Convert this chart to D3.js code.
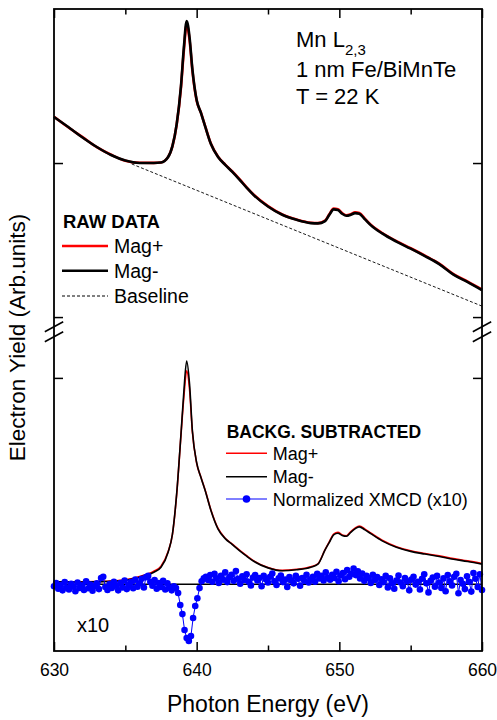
<!DOCTYPE html>
<html>
<head>
<meta charset="utf-8">
<script src="https://cdn.jsdelivr.net/npm/d3@7"></script>
<style>
  body { margin: 0; background: #fff; }
  text { font-family: "Liberation Sans", Arial, sans-serif; }
</style>
</head>
<body>
<div id="chart"></div>
<script>
// photon energy grid used by the four spectra (eV)
const energy = [630, 631, 632, 633, 634, 635, 636, 637, 637.5, 638, 638.3, 638.6, 638.9, 639.1, 639.3, 639.5, 639.7,
  640, 640.3, 640.6, 641, 641.5, 642, 642.5, 643, 643.5, 644, 645, 646, 647, 648, 648.5, 649, 649.3, 649.6, 649.9,
  650.2, 650.5, 650.8, 651.1, 651.4, 651.8, 652.2, 653, 654, 655, 656, 657, 658, 659, 660];

// raw electron yield (upper panel, arb. units)
const rawMagMinus = [2.299, 2.234, 2.166, 2.104, 2.052, 2.016, 2.000, 2.000, 2.003, 2.039, 2.110, 2.253, 2.500, 2.747, 2.922, 2.818, 2.610,
  2.409, 2.325, 2.236, 2.123, 2.039, 1.988, 1.943, 1.893, 1.840, 1.792, 1.718, 1.664, 1.631, 1.610, 1.608, 1.623, 1.664, 1.699, 1.695,
  1.671, 1.658, 1.664, 1.675, 1.671, 1.634, 1.597, 1.543, 1.490, 1.444, 1.396, 1.344, 1.276, 1.227, 1.175];
const rawMagPlus = [2.301, 2.232, 2.168, 2.103, 2.054, 2.015, 2.002, 2.001, 2.004, 2.040, 2.108, 2.250, 2.490, 2.728, 2.900, 2.800, 2.600,
  2.405, 2.327, 2.238, 2.125, 2.041, 1.990, 1.945, 1.895, 1.842, 1.794, 1.720, 1.666, 1.633, 1.612, 1.610, 1.626, 1.668, 1.704, 1.700,
  1.675, 1.661, 1.668, 1.680, 1.676, 1.638, 1.600, 1.546, 1.493, 1.447, 1.399, 1.347, 1.279, 1.230, 1.179];
const baselineEnergy = [635.45, 660];
const baselineValue = [1.994, 1.071];

// background subtracted spectra (lower panel)
const subMagMinus = [0.011, 0.011, 0.010, 0.012, 0.014, 0.019, 0.034, 0.058, 0.082, 0.155, 0.242, 0.440, 0.727, 0.932, 1.082, 0.971, 0.744,
  0.589, 0.517, 0.453, 0.357, 0.267, 0.221, 0.192, 0.163, 0.136, 0.111, 0.079, 0.065, 0.070, 0.082, 0.097, 0.166, 0.203, 0.239, 0.247,
  0.236, 0.232, 0.251, 0.268, 0.278, 0.263, 0.245, 0.210, 0.179, 0.159, 0.146, 0.134, 0.121, 0.110, 0.097];
const subMagPlus = [0.012, 0.010, 0.011, 0.013, 0.015, 0.021, 0.037, 0.063, 0.087, 0.158, 0.240, 0.436, 0.722, 0.905, 1.034, 0.945, 0.738,
  0.586, 0.519, 0.455, 0.360, 0.270, 0.223, 0.194, 0.165, 0.138, 0.113, 0.081, 0.067, 0.072, 0.084, 0.099, 0.168, 0.206, 0.243, 0.251,
  0.239, 0.235, 0.255, 0.272, 0.282, 0.267, 0.248, 0.213, 0.182, 0.162, 0.149, 0.137, 0.124, 0.113, 0.100];

// normalized XMCD (x10)
const xmcdEnergy = [
  630.00, 630.15, 630.30, 630.45, 630.60, 630.75, 630.90, 631.05, 631.20, 631.35,
  631.50, 631.65, 631.80, 631.95, 632.10, 632.25, 632.40, 632.55, 632.70, 632.85,
  633.00, 633.15, 633.30, 633.45, 633.60, 633.75, 633.90, 634.05, 634.20, 634.35,
  634.50, 634.65, 634.80, 634.95, 635.10, 635.25, 635.40, 635.55, 635.70, 635.85,
  636.00, 636.15, 636.30, 636.45, 636.60, 636.75, 636.90, 637.05, 637.20, 637.35,
  637.50, 637.65, 637.80, 637.95, 638.10, 638.25, 638.40, 638.55, 638.70, 638.85,
  639.00, 639.15, 639.30, 639.45, 639.60, 639.75, 639.90, 640.05, 640.20, 640.35,
  640.50, 640.65, 640.80, 640.95, 641.10, 641.25, 641.40, 641.55, 641.70, 641.85,
  642.00, 642.15, 642.30, 642.45, 642.60, 642.75, 642.90, 643.05, 643.20, 643.35,
  643.50, 643.65, 643.80, 643.95, 644.10, 644.25, 644.40, 644.55, 644.70, 644.85,
  645.00, 645.15, 645.30, 645.45, 645.60, 645.75, 645.90, 646.05, 646.20, 646.35,
  646.50, 646.65, 646.80, 646.95, 647.10, 647.25, 647.40, 647.55, 647.70, 647.85,
  648.00, 648.15, 648.30, 648.45, 648.60, 648.75, 648.90, 649.05, 649.20, 649.35,
  649.50, 649.65, 649.80, 649.95, 650.10, 650.25, 650.40, 650.55, 650.70, 650.85,
  651.00, 651.15, 651.30, 651.45, 651.60, 651.75, 651.90, 652.05, 652.20, 652.35,
  652.50, 652.65, 652.80, 652.95, 653.10, 653.25, 653.40, 653.55, 653.70, 653.85,
  654.00, 654.15, 654.30, 654.45, 654.60, 654.75, 654.90, 655.05, 655.20, 655.35,
  655.50, 655.65, 655.80, 655.95, 656.10, 656.25, 656.40, 656.55, 656.70, 656.85,
  657.00, 657.15, 657.30, 657.45, 657.60, 657.75, 657.90, 658.05, 658.20, 658.35,
  658.50, 658.65, 658.80, 658.95, 659.10, 659.25, 659.40, 659.55, 659.70, 659.85,
  660.00];
const xmcdValue = [
  -0.010, 0.006, -0.022, -0.004, -0.030, 0.010, -0.016, -0.026, 0.002, -0.012,
  -0.034, 0.008, -0.018, -0.006, -0.028, 0.014, -0.020, -0.002, -0.032, -0.010,
  0.004, -0.024, 0.030, 0.036, -0.014, -0.028, 0.000, -0.018, 0.012, -0.008,
  -0.030, 0.006, -0.016, 0.018, -0.024, -0.004, 0.010, -0.020, 0.022, -0.012,
  0.004, 0.026, -0.016, 0.034, 0.040, 0.012, -0.008, 0.020, -0.022, 0.006,
  -0.014, 0.016, -0.026, 0.004, -0.018, -0.030, -0.010,
  -0.019, -0.043, -0.101, -0.145, -0.222, -0.261, -0.275, -0.251, -0.164, -0.106, -0.068, -0.019, 0.014, 0.029,
  0.036, 0.020, 0.044, 0.012, 0.050, 0.028, 0.006, 0.040, 0.022, 0.058,
  0.010, 0.034, 0.046, 0.016, 0.064, 0.026, 0.002, 0.038, 0.020, 0.048,
  0.012, -0.006, 0.032, 0.044, 0.018, 0.030, -0.010, 0.040, 0.024, 0.008,
  0.036, 0.052, 0.014, -0.004, 0.028, 0.042, 0.010, 0.022, -0.014, 0.034,
  0.018, 0.004, 0.040, 0.026, -0.008, 0.030, 0.016, 0.046, 0.008, 0.024,
  0.036, 0.012, 0.050, 0.028, 0.040, 0.018, 0.058, 0.032, 0.022, 0.046,
  0.030, 0.060, 0.014, 0.042, 0.054, 0.024, 0.068, 0.036, 0.050, 0.076,
  0.044, 0.062, 0.028, 0.052, 0.016, 0.040, 0.030, 0.006, 0.046, 0.020,
  0.034, -0.004, 0.024, 0.010, 0.040, -0.016, 0.028, 0.004, -0.022, 0.018,
  0.042, 0.008, -0.010, 0.030, 0.014, -0.030, 0.022, 0.036, -0.002, 0.012,
  -0.026, 0.026, 0.048, 0.004, -0.040, 0.016, 0.032, -0.012, 0.040, 0.008,
  -0.018, 0.028, -0.034, 0.044, 0.014, -0.006, 0.036, 0.050, -0.044, 0.020,
  0.002, -0.024, 0.038, 0.012, -0.036, 0.054, 0.026, -0.014, 0.048, -0.028];

const xTicks = [630, 640, 650, 660];
const xMinorTicks = [635, 645, 655];
const rawTicks = [1, 2];
const subTicks = [1];

const W = 497, H = 720;
const margin = { top: 9, right: 15, bottom: 69, left: 54 };
const width = W - margin.left - margin.right;
const height = H - margin.top - margin.bottom;
const breakY = 322.7; // where the axis break sits, inside the plot

const svg = d3.select('#chart').append('svg')
  .attr('width', W)
  .attr('height', H);
const g = svg.append('g')
  .attr('transform', `translate(${margin.left},${margin.top})`);

const x = d3.scaleLinear().domain([630, 660]).range([0, width]);
const yRaw = d3.scaleLinear().domain([0.905, 3.0]).range([breakY, 0]);
const ySub = d3.scaleLinear().domain([-0.324, 1.224]).range([height, breakY]);

const zip = (xs, ys) => xs.map((e, i) => [e, ys[i]]);
const lineFor = (yScale, curve) => d3.line()
  .x(d => x(d[0]))
  .y(d => yScale(d[1]))
  .curve(curve || d3.curveMonotoneX);

// upper panel: raw data
g.append('path')
  .datum(zip(baselineEnergy, baselineValue))
  .attr('d', lineFor(yRaw, d3.curveLinear))
  .attr('fill', 'none')
  .attr('stroke', '#000')
  .attr('stroke-width', 0.9)
  .attr('stroke-dasharray', '3,2');

g.append('path')
  .datum(zip(energy, rawMagPlus))
  .attr('d', lineFor(yRaw))
  .attr('fill', 'none')
  .attr('stroke', '#ff0000')
  .attr('stroke-width', 2.6);

g.append('path')
  .datum(zip(energy, rawMagMinus))
  .attr('d', lineFor(yRaw))
  .attr('fill', 'none')
  .attr('stroke', '#000')
  .attr('stroke-width', 2.6);

// lower panel: zero line, subtracted spectra, xmcd
g.append('line')
  .attr('x1', x(630)).attr('x2', x(660))
  .attr('y1', ySub(0)).attr('y2', ySub(0))
  .attr('stroke', '#000')
  .attr('stroke-width', 1.5);

g.append('path')
  .datum(zip(energy, subMagPlus))
  .attr('d', lineFor(ySub))
  .attr('fill', 'none')
  .attr('stroke', '#ff0000')
  .attr('stroke-width', 1.6);

g.append('path')
  .datum(zip(energy, subMagMinus))
  .attr('d', lineFor(ySub))
  .attr('fill', 'none')
  .attr('stroke', '#000')
  .attr('stroke-width', 1.6);

const xmcd = zip(xmcdEnergy, xmcdValue);
g.append('path')
  .datum(xmcd)
  .attr('d', lineFor(ySub, d3.curveLinear))
  .attr('fill', 'none')
  .attr('stroke', '#0000ff')
  .attr('stroke-width', 1);

g.selectAll('.xmcd-dot')
  .data(xmcd)
  .join('circle')
    .attr('class', 'xmcd-dot')
    .attr('cx', d => x(d[0]))
    .attr('cy', d => ySub(d[1]))
    .attr('r', 3.3)
    .attr('fill', '#0000ff');

// axes (ticks point inward, frame drawn separately)
function styleAxis(sel) {
  sel.select('.domain').remove();
  sel.selectAll('.tick line').attr('stroke', '#000').attr('stroke-width', 1.5);
  sel.selectAll('.tick text')
    .attr('fill', '#000')
    .style('font-family', '"Liberation Sans", Arial, sans-serif')
    .style('font-size', '17.5px');
}

g.append('g')
  .attr('transform', `translate(0,${height})`)
  .call(d3.axisBottom(x).tickValues(xTicks).tickSize(-9).tickPadding(12.6).tickFormat(d3.format('d')))
  .call(styleAxis);
g.append('g')
  .attr('transform', `translate(0,${height})`)
  .call(d3.axisBottom(x).tickValues(xMinorTicks).tickSize(-5.5).tickFormat(''))
  .call(styleAxis);
g.append('g')
  .call(d3.axisTop(x).tickValues(xTicks).tickSize(-9).tickFormat(''))
  .call(styleAxis);
g.append('g')
  .call(d3.axisTop(x).tickValues(xMinorTicks).tickSize(-5.5).tickFormat(''))
  .call(styleAxis);

[[yRaw, rawTicks], [ySub, subTicks]].forEach(([scale, ticks]) => {
  g.append('g')
    .call(d3.axisLeft(scale).tickValues(ticks).tickSize(-9).tickFormat(''))
    .call(styleAxis);
  g.append('g')
    .attr('transform', `translate(${width},0)`)
    .call(d3.axisRight(scale).tickValues(ticks).tickSize(-9).tickFormat(''))
    .call(styleAxis);
});

g.append('rect')
  .attr('width', width)
  .attr('height', height)
  .attr('fill', 'none')
  .attr('stroke', '#000')
  .attr('stroke-width', 1.8);

// axis break marks on both sides
[0, width].forEach(xp => {
  [-5, 5].forEach(off => {
    g.append('line')
      .attr('x1', xp - 9.2).attr('y1', breakY + off + 5)
      .attr('x2', xp + 9.2).attr('y2', breakY + off - 5)
      .attr('stroke', '#000')
      .attr('stroke-width', 1.6);
  });
});

// axis titles
svg.append('text')
  .attr('x', margin.left + width / 2)
  .attr('y', 711.5)
  .attr('text-anchor', 'middle')
  .style('font-size', '23px')
  .text('Photon Energy (eV)');

svg.append('text')
  .attr('transform', 'translate(24.5,337.5) rotate(-90)')
  .attr('text-anchor', 'middle')
  .style('font-size', '22.5px')
  .text('Electron Yield (Arb.units)');

// sample annotation
const note = svg.append('g').style('font-size', '22px');
const l1 = note.append('text').attr('x', 296).attr('y', 46.7);
l1.append('tspan').text('Mn L');
l1.append('tspan').attr('dy', 8).style('font-size', '15px').text('2,3');
note.append('text').attr('x', 296).attr('y', 77).text('1 nm Fe/BiMnTe');
note.append('text').attr('x', 296).attr('y', 103.5).text('T = 22 K');

svg.append('text')
  .attr('x', 77).attr('y', 632)
  .style('font-size', '20px')
  .text('x10');

// legend, raw data
const legRaw = svg.append('g');
legRaw.append('text').attr('x', 63).attr('y', 228)
  .style('font-size', '18.5px').style('font-weight', 'bold').text('RAW DATA');
[
  { label: 'Mag+', color: '#ff0000', dash: null, y: 246 },
  { label: 'Mag-', color: '#000', dash: null, y: 270.7 },
  { label: 'Baseline', color: '#000', dash: '3,2', y: 296 }
].forEach(d => {
  legRaw.append('line')
    .attr('x1', 62).attr('x2', 108).attr('y1', d.y).attr('y2', d.y)
    .attr('stroke', d.color)
    .attr('stroke-width', d.dash ? 1 : 2.6)
    .attr('stroke-dasharray', d.dash);
  legRaw.append('text').attr('x', 114).attr('y', d.y + 6.8)
    .style('font-size', '19.5px').text(d.label);
});

// legend, background subtracted
const legSub = svg.append('g');
legSub.append('text').attr('x', 226.7).attr('y', 437.5)
  .style('font-size', '17.5px').style('font-weight', 'bold').text('BACKG. SUBTRACTED');
[
  { label: 'Mag+', color: '#ff0000', dot: false, y: 453.3 },
  { label: 'Mag-', color: '#000', dot: false, y: 476.7 },
  { label: 'Normalized XMCD (x10)', color: '#0000ff', dot: true, y: 499 }
].forEach(d => {
  legSub.append('line')
    .attr('x1', 226).attr('x2', 267).attr('y1', d.y).attr('y2', d.y)
    .attr('stroke', d.color)
    .attr('stroke-width', d.dot ? 1 : 1.6);
  if (d.dot) {
    legSub.append('circle').attr('cx', 246.5).attr('cy', d.y).attr('r', 3.8).attr('fill', d.color);
  }
  legSub.append('text').attr('x', 272.7).attr('y', d.y + 6.5)
    .style('font-size', '18px').text(d.label);
});
</script>
</body>
</html>
